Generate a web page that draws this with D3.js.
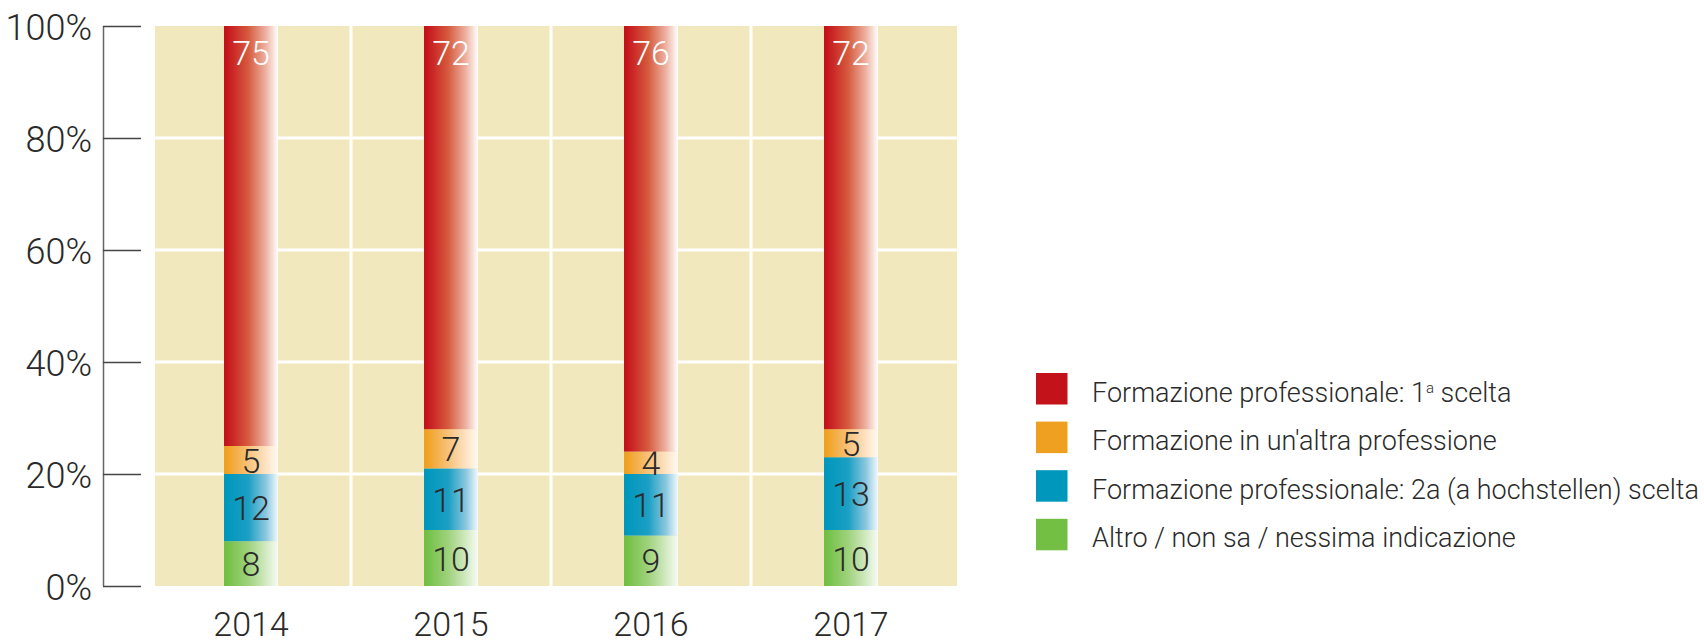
<!DOCTYPE html>
<html>
<head>
<meta charset="utf-8">
<script src="https://cdn.jsdelivr.net/npm/d3@7/dist/d3.min.js"></script>
<style>
  body { margin: 0; background: #fff; }
  svg text { font-family: Roboto, "DejaVu Sans Condensed", sans-serif; font-weight: 300; fill: #2a2a2a; }
</style>
</head>
<body>
<svg id="chart" width="1704" height="641"></svg>
<script>
// data
const years = ["2014", "2015", "2016", "2017"];
const seriesKeys = ["altro", "seconda", "altra", "prima"];
const seriesLabels = {
    prima: "Formazione professionale: 1",
    altra: "Formazione in un'altra professione",
    seconda: "Formazione professionale: 2a (a hochstellen) scelta",
    altro: "Altro / non sa / nessima indicazione"
};
const prima = [75, 72, 76, 72];
const altra = [5, 7, 4, 5];
const seconda = [12, 11, 11, 13];
const altro = [8, 10, 9, 10];
const yTicks = [0, 20, 40, 60, 80, 100];
const legendOrder = ["prima", "altra", "seconda", "altro"];

const colors = {
    prima: ["#c4121b", "#d65b3f", "#eeb3a3", "#ffffff"],
    altra: ["#f0a020", "#f7c27a", "#fde3c4", "#fffaf2"],
    seconda: ["#0097bd", "#1c9fc4", "#8cc8df", "#f2f9fc"],
    altro: ["#72bf44", "#9fd27c", "#d2eac2", "#f8fbf5"]
};

const table = years.map((y, i) => ({
    year: y, prima: prima[i], altra: altra[i], seconda: seconda[i], altro: altro[i]
}));

const svg = d3.select("#chart");
const plot = { left: 155, right: 957, top: 26, bottom: 586 };

let x = d3.scaleBand().domain(years).range([151, 951]).padding(0);
let y = d3.scaleLinear().domain([0, 100]).range([plot.bottom, plot.top]);
const barWidth = 54;

// gradients, colour on the left fading to white on the right
let defs = svg.append("defs");
seriesKeys.forEach(function(k) {
    let g = defs.append("linearGradient").attr("id", "grad_" + k)
        .attr("x1", "0%").attr("x2", "100%").attr("y1", "0%").attr("y2", "0%");
    let offs = [0.04, 0.45, 0.78, 1];
    colors[k].forEach(function(c, i) {
        g.append("stop").attr("offset", offs[i]).attr("stop-color", c);
    });
});

// background
svg.append("rect")
    .attr("x", plot.left).attr("y", plot.top)
    .attr("width", plot.right - plot.left).attr("height", plot.bottom - plot.top)
    .attr("fill", "#f1e8bd");

// white grid
svg.selectAll(".hgrid").data(yTicks.slice(1, -1)).enter()
    .append("line").attr("class", "hgrid")
    .attr("x1", plot.left).attr("x2", plot.right)
    .attr("y1", d => y(d)).attr("y2", d => y(d))
    .attr("stroke", "#fff").attr("stroke-width", 3);
svg.selectAll(".vgrid").data(years.slice(1)).enter()
    .append("line").attr("class", "vgrid")
    .attr("x1", d => x(d)).attr("x2", d => x(d))
    .attr("y1", plot.top).attr("y2", plot.bottom)
    .attr("stroke", "#fff").attr("stroke-width", 3);

// y axis
let yAxis = d3.axisRight(y).tickValues(yTicks).tickSize(38).tickFormat("");
let axisG = svg.append("g").attr("transform", "translate(103,0)").call(yAxis);
axisG.select(".domain").attr("stroke", "#666").attr("stroke-width", 1.5).attr("d", "M0.5," + y(100) + "V" + y(0));
axisG.selectAll(".tick line").attr("stroke", "#444").attr("stroke-width", 1.5);

svg.selectAll(".ylab").data(yTicks).enter()
    .append("text").attr("class", "ylab")
    .attr("x", 92).attr("y", d => y(d) + 14)
    .attr("text-anchor", "end")
    .style("font-size", "36px")
    .text(d => d + "%");

// stacked bars
let stack = d3.stack().keys(seriesKeys)(table);
let layers = svg.selectAll(".layer").data(stack).enter().append("g").attr("class", "layer");
layers.selectAll("rect").data(d => d.map(p => ({ key: d.key, p: p }))).enter()
    .append("rect")
    .attr("x", d => x(d.p.data.year) + x.bandwidth() / 2 - barWidth / 2)
    .attr("y", d => y(d.p[1]))
    .attr("width", barWidth)
    .attr("height", d => y(d.p[0]) - y(d.p[1]))
    .attr("fill", d => "url(#grad_" + d.key + ")");

layers.selectAll("text").data(d => d.map(p => ({ key: d.key, p: p }))).enter()
    .append("text")
    .attr("x", d => x(d.p.data.year) + x.bandwidth() / 2)
    .attr("y", function(d) {
        if (d.key == "prima") return y(d.p[1]) + 39;
        return (y(d.p[0]) + y(d.p[1])) / 2 + 12.5;
    })
    .attr("text-anchor", "middle")
    .style("font-size", "34px")
    .style("fill", d => d.key == "prima" ? "#fff" : "#2a2a2a")
    .text(d => d.p.data[d.key]);

// x labels
svg.selectAll(".xlab").data(years).enter()
    .append("text").attr("class", "xlab")
    .attr("x", d => x(d) + x.bandwidth() / 2)
    .attr("y", 636)
    .attr("text-anchor", "middle")
    .style("font-size", "34px")
    .text(d => d);

// legend
let legend = svg.append("g").attr("transform", "translate(1036,373)");
let items = legend.selectAll(".item").data(legendOrder).enter()
    .append("g").attr("class", "item")
    .attr("transform", (d, i) => "translate(0," + (i * 48.6) + ")");
items.append("rect").attr("width", 31.5).attr("height", 31.5)
    .attr("fill", d => colors[d][0]);
let lt = items.append("text").attr("x", 56).attr("y", 28.5)
    .style("font-size", "27px")
    .text(d => seriesLabels[d]);
lt.filter(d => d == "prima").append("tspan")
    .attr("dy", -9).style("font-size", "15px").text("a");
lt.filter(d => d == "prima").append("tspan")
    .attr("dy", 9).text(" scelta");
</script>
</body>
</html>
